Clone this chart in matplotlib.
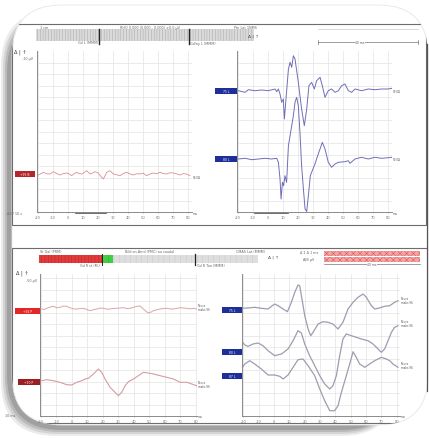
"""
Screenshot-style recreation of an evoked potential report (two panels,
four traces plots) on a curled white card with a grey shadow.
"""

import matplotlib
matplotlib.use("Agg")

import matplotlib.pyplot as plt
from matplotlib.patches import FancyBboxPatch, Rectangle
import numpy as np

plt.rcParams["hatch.linewidth"] = 0.3
plt.rcParams["font.family"] = ["DejaVu Sans"]

# ------------------------------------------------------------------ #
# Data (x in ms, y in display units)            #
# ------------------------------------------------------------------ #
TICKS_MS = [-20, -10, 0, 10, 20, 30, 40, 50, 60, 70, 80]
TICK_LABELS = ["-20", "-10", "0", "10", "20", "30", "40", "50", "60", "70", "80"]

# top-left: single red trace
tl_x = [-20.5, -18.5, -16.4, -14.2, -12.0, -9.8, -7.6, -5.3, -3.1, -0.9, 1.2, 2.4,
        4.0, 5.8, 7.5, 9.1, 10.8, 12.4, 14.7, 16.4, 18.0, 20.2, 22.4, 23.6, 25.8,
        28.0, 30.2, 32.5, 34.7, 36.9, 39.1, 41.4, 43.6, 45.8, 48.0, 50.2, 52.4,
        54.7, 56.9, 59.1, 61.3, 63.5, 65.8, 68.0, 70.2, 72.4, 74.7, 76.9, 79.1, 81.3]
tl_y = [36.5, 38.0, 39.7, 38.2, 38.0, 40.3, 38.5, 37.0, 38.4, 39.0, 37.8, 36.3,
        38.2, 39.7, 38.4, 38.0, 39.5, 41.3, 38.0, 39.0, 40.3, 39.0, 34.7, 33.0, 39.7,
        41.3, 38.0, 37.2, 36.3, 38.5, 39.7, 38.0, 37.0, 38.3, 38.0, 38.8, 36.3,
        38.0, 39.0, 38.2, 39.7, 38.5, 38.0, 39.2, 39.0, 38.2, 37.0, 38.4, 38.0, 36.3]

# top-right: two blue traces
tr1_x = [-19.8, -15.3, -13.1, -8.7, -4.2, 0.2, 4.7, 5.8, 6.9, 8.0, 9.1, 10.2, 10.9,
         11.8, 13.6, 14.7, 15.8, 16.9, 18.0, 20.2, 22.4, 24.2, 25.8, 27.3, 29.1,
         30.9, 32.4, 34.7, 36.2, 38.0, 40.2, 42.4, 44.7, 46.9, 49.1, 51.3, 53.6,
         55.8, 58.0, 62.4, 66.9, 71.3, 75.8, 80.2, 82.5]
tr1_y = [121.3, 119.7, 122.3, 121.3, 122.0, 121.3, 123.0, 120.3, 123.0, 118.0, 109.7,
         113.0, 93.0, 109.7, 143.0, 149.7, 144.7, 156.3, 153.0, 129.7, 103.0, 86.3,
         103.0, 126.3, 129.7, 123.0, 131.3, 134.7, 126.3, 114.7, 121.3, 123.0, 119.7,
         121.3, 126.3, 128.0, 121.3, 119.7, 123.0, 121.3, 123.0, 122.3, 123.0, 123.0,
         123.7]
tr2_x = [-19.8, -15.3, -10.9, -6.4, -2.0, 2.4, 5.8, 6.9, 8.0, 8.7, 9.6, 10.4, 11.3,
         12.4, 13.6, 14.7, 15.8, 16.9, 18.0, 19.1, 20.2, 21.3, 22.4, 23.6, 24.7, 25.8,
         26.9, 28.2, 31.3, 33.1, 34.7, 36.2, 38.0, 40.2, 42.4, 44.7, 46.9, 51.3, 53.6,
         54.7, 58.0, 62.4, 66.9, 71.3, 75.8, 80.2, 82.5]
tr2_y = [53.0, 53.7, 52.3, 53.0, 53.7, 53.0, 53.7, 49.7, 33.0, 13.0, 29.7, 26.3, 36.3,
         29.7, 66.3, 76.3, 86.3, 96.3, 109.7, 114.7, 106.3, 79.7, 46.3, 23.0, 3.0, 0.5,
         16.3, 36.3, 48.0, 56.3, 63.0, 69.7, 63.0, 49.7, 44.7, 48.0, 49.7, 50.3, 51.3,
         48.7, 53.0, 54.7, 53.0, 54.7, 53.7, 54.3, 54.7]

# bottom-left: two red traces
bl1_x = [-19.4, -17.8, -16.2, -14.0, -11.9, -9.7, -7.6, -5.4, -3.3, -1.6, 0.0, 1.6,
         3.2, 5.4, 7.5, 9.6, 11.8, 13.9, 16.1, 18.2, 20.4, 22.5, 24.7, 26.8, 29.0,
         31.1, 33.3, 35.4, 37.6, 39.7, 41.9, 44.1, 46.2, 47.8, 49.4, 51.0, 52.7,
         54.8, 57.0, 59.1, 61.3, 63.4, 65.6, 67.7, 69.9, 72.0, 74.2, 76.3, 78.5, 80.6]
bl1_y = [107.0, 106.5, 107.7, 108.9, 109.7, 108.2, 108.7, 109.9, 109.7, 108.4, 107.7,
         107.0, 107.0, 107.4, 107.7, 106.6, 105.3, 106.2, 107.0, 107.9, 107.7, 106.9,
         107.0, 107.6, 107.7, 108.0, 108.3, 107.5, 107.7, 108.6, 109.7, 110.0, 107.0,
         104.8, 103.0, 103.8, 105.3, 106.2, 107.0, 107.5, 107.7, 107.1, 107.0, 107.6,
         108.3, 108.0, 107.7, 107.2, 107.7, 107.0]
bl2_x = [-19.4, -16.2, -11.9, -7.6, -3.3, 0.0, 3.2, 6.4, 8.6, 10.7, 14.0, 17.2, 19.3,
         21.5, 24.7, 26.9, 30.1, 32.2, 34.4, 36.5, 39.8, 43.0, 46.2, 49.4, 52.7, 57.0,
         61.3, 65.6, 69.9, 74.2, 77.4, 80.6]
bl2_y = [35.3, 36.3, 35.3, 33.7, 31.3, 31.0, 33.7, 35.3, 37.0, 37.7, 42.0, 47.0, 43.7,
         37.0, 28.7, 25.3, 20.3, 23.7, 30.3, 34.3, 37.0, 40.3, 43.7, 43.0, 42.0, 40.3,
         38.7, 37.0, 33.7, 33.7, 32.0, 30.3]

# bottom-right: three grey traces
br1_x = [-21.3, -16.9, -12.6, -8.3, -3.9, -1.7, 0.4, 2.6, 5.9, 8.7, 11.3, 13.5, 15.6,
         16.7, 18.2, 20.0, 22.2, 23.9, 25.4, 28.7, 31.9, 35.2, 38.4, 41.7, 44.9, 48.2,
         51.5, 54.7, 58.0, 60.2, 63.4, 65.6, 67.8, 72.1, 75.4, 78.6, 80.8]
br1_y = [107.7, 108.0, 108.7, 107.7, 107.0, 109.7, 112.0, 110.3, 107.0, 104.3, 113.7,
         123.7, 131.0, 130.3, 117.0, 100.3, 87.0, 80.3, 83.7, 92.0, 94.3, 93.7, 92.0,
         87.0, 93.7, 107.0, 113.7, 118.7, 122.0, 118.7, 110.3, 107.0, 107.7, 109.7,
         110.3, 113.7, 115.3]
br2_x = [-21.3, -19.1, -16.9, -13.7, -10.4, -7.2, -3.9, 0.4, 4.8, 9.1, 12.4, 15.6, 17.8,
         20.0, 23.2, 26.5, 29.8, 33.0, 36.3, 38.4, 40.6, 42.8, 44.9, 47.1, 50.4, 53.6,
         56.9, 61.2, 64.5, 67.8, 69.9, 72.1, 74.3, 76.5, 78.6, 80.8]
br2_y = [75.3, 71.0, 69.7, 72.0, 73.0, 70.3, 65.3, 60.3, 62.0, 67.0, 75.3, 85.3, 83.0,
         72.0, 60.3, 50.3, 40.3, 32.0, 27.0, 30.3, 40.3, 60.3, 77.0, 82.0, 80.3, 78.7,
         77.0, 75.3, 72.0, 67.0, 63.7, 67.0, 75.3, 83.7, 88.7, 90.3]
br3_x = [-21.3, -19.1, -15.9, -12.6, -8.3, -3.9, 0.4, 3.7, 5.9, 9.1, 12.4, 15.6, 18.9,
         22.2, 26.5, 29.8, 33.0, 36.3, 39.5, 41.7, 43.9, 47.1, 49.3, 51.5, 53.6, 55.8,
         59.1, 62.3, 65.6, 69.9, 73.2, 75.4, 77.5, 80.8]
br3_y = [47.0, 52.0, 55.3, 52.0, 47.0, 41.0, 41.0, 39.7, 37.0, 41.0, 48.7, 56.3, 57.0,
         50.3, 40.3, 27.0, 15.3, 5.3, 5.3, 10.3, 23.7, 40.3, 52.0, 64.3, 58.7, 52.0,
         48.7, 52.0, 55.3, 58.7, 57.0, 55.3, 52.0, 48.7]

W, H = 429, 439


def px_axes(fig, x0, y0, x1, y1):
    """Add an axes given its pixel box (y measured from the top)."""
    return fig.add_axes([x0 / W, 1 - y1 / H, (x1 - x0) / W, (y1 - y0) / H], zorder=2)


def style_plot(ax, xlim, height):
    ax.set_xlim(*xlim)
    ax.set_ylim(0, height)
    ax.set_xticks(TICKS_MS)
    ax.set_xticklabels(TICK_LABELS)
    ax.set_yticks(np.arange(0, height, 11.5))
    ax.set_yticklabels([])
    ax.tick_params(axis="x", labelsize=2.6, colors="#777777", length=1, width=0.4, pad=1)
    ax.tick_params(axis="y", length=0)
    ax.grid(True, color="#e3e3e3", linewidth=0.5)
    ax.set_axisbelow(True)
    for side in ("top", "right"):
        ax.spines[side].set_visible(False)
    for side in ("left", "bottom"):
        ax.spines[side].set_color("#8a8a8a")
        ax.spines[side].set_linewidth(0.7)


fig = plt.figure(figsize=(W / 100, H / 100), dpi=100)
fig.patch.set_facecolor("white")

# ------------------------------------------------------------------ #
# Card with shadow (left and bottom only)                             #
# ------------------------------------------------------------------ #
deco = fig.add_axes([0, 0, 1, 1], zorder=0)
deco.set_xlim(0, W)
deco.set_ylim(H, 0)
deco.axis("off")

for pad, col in [(0, "#ececec"), (2, "#d4d4d4"), (4, "#bababa"), (6, "#a0a0a0")]:
    deco.add_patch(FancyBboxPatch((1 + pad, 12 + pad), 395 - pad, 425 - 2 * pad,
                                  boxstyle="round,pad=0,rounding_size=55",
                                  fc=col, ec="none"))
card = FancyBboxPatch((12, 6), 416, 420, boxstyle="round,pad=0,rounding_size=50",
                      fc="white", ec="#e6e6e6", lw=0.6)
deco.add_patch(card)
deco.plot([426.5, 426.5], [45, 392], color="#555555", lw=0.9)

# panel frames
for (x0, y0, w, h) in [(12, 25, 414, 201), (12, 249, 416, 175)]:
    r = Rectangle((x0, y0), w, h, fill=False, ec="#6d6d6d", lw=0.8)
    deco.add_patch(r)
    r.set_clip_path(card)

tiny = dict(fontsize=2.4, color="#666666", va="center")

# top header
deco.add_patch(Rectangle((36, 30), 218, 12, fc="#dadada", ec="#a0a0a0",
                         hatch="||||||", lw=0))
for xm in (99, 189):
    deco.plot([xm, xm], [30, 45], color="#222222", lw=1.0)
deco.text(40, 28, "1 cm", **tiny)
deco.text(120, 27.5, "RHO 0.000 (0.000 - 0.000) ±0.0 µV", **tiny)
deco.text(78, 43.5, "Gd L (MMM)", **tiny)
deco.text(190, 43.5, "Gd/ny L (MMM)", **tiny)
deco.text(234, 28, "Ptn Lat 1NMS", **tiny)
deco.text(248, 37, "Δ | ↑", fontsize=3.2, color="#444444", va="center")
deco.plot([318, 418], [43, 43], color="#777777", lw=0.5)
deco.plot([318, 418], [30, 30], color="#bbbbbb", lw=0.4)
for xm in (318, 418):
    deco.plot([xm, xm], [41, 45], color="#777777", lw=0.5)
deco.text(360, 43, "40 ms", fontsize=2.2, color="#555555", va="center", ha="center",
          bbox=dict(fc="white", ec="none", pad=0.2))
deco.text(14, 52, "Δ | ↑", fontsize=3.6, color="#333333", va="center")
deco.text(22, 59, "-10 µV", **tiny)
deco.text(6, 214, "-60 / 10 s", **tiny)

# bottom header
deco.add_patch(Rectangle((39, 256), 63, 8, fc="#e33b3b", ec="#b52020", hatch="|||||", lw=0))
deco.add_patch(Rectangle((102, 256), 11, 8, fc="#44cc44", ec="#22aa22", hatch="|||", lw=0))
deco.add_patch(Rectangle((113, 256), 145, 8, fc="#dedede", ec="#c4c4c4", hatch="|||", lw=0))
deco.plot([195, 195], [255, 266], color="#222222", lw=0.9)
deco.plot([102, 102], [255, 266], color="#222222", lw=0.7)
deco.text(40, 252, "St Gal (PRM)", **tiny)
deco.text(125, 252, "Bild on Arnd (PMC) au caudal", **tiny)
deco.text(80, 266, "Gd R ct (M-)", **tiny)
deco.text(197, 266, "Gd R Tun (MMM)", **tiny)
deco.text(236, 252, "CMAS Lat (MMM)", **tiny)
deco.text(268, 258, "Δ | ↑", fontsize=3.2, color="#444444", va="center")
deco.text(300, 253.5, "Δ Σ Δ 1 ms", **tiny)
deco.text(303, 260, "A|B µV", **tiny)
for yr in (252, 258):
    deco.add_patch(Rectangle((324, yr), 96, 5, fc="#f4a3a3", ec="#d04a4a",
                             hatch="xxxxx", lw=0))
deco.plot([324, 420], [265, 265], color="#777777", lw=0.5)
deco.text(372, 265, "40 ms", fontsize=2.2, color="#555555", va="center", ha="center",
          bbox=dict(fc="white", ec="none", pad=0.2))
deco.text(16, 273, "Δ | ↑", fontsize=3.6, color="#333333", va="center")
deco.text(26, 281, "-50 µV", **tiny)
deco.text(5, 416, "10 ms", **tiny)

# channel label boxes (left of traces)
for (x0, yc, w, col, txt) in [(15, 175, 20, "#b3262b", "+95 B"),
                              (215, 92, 22, "#1f2f9a", "75 L"),
                              (215, 160, 22, "#1f2f9a", "80 L"),
                              (15, 312, 25, "#e32626", "+92 P"),
                              (18, 383, 22, "#9c1d22", "+90 P"),
                              (222, 311, 20, "#1f2f9a", "75 L"),
                              (222, 353, 20, "#1f2f9a", "80 L"),
                              (222, 377, 20, "#1f2f9a", "87 L")]:
    deco.add_patch(Rectangle((x0, yc - 3), w, 6, fc=col, ec="none"))
    deco.text(x0 + w / 2, yc, txt, fontsize=2.2, color="white", ha="center", va="center")

# end-of-trace labels
for (x, y, txt) in [(193, 178, "96.0Ω"), (393, 92, "99.0Ω"), (393, 160, "99.0Ω"),
                    (198, 308, "Neuro\nmaks 96"), (198, 385, "Neuro\nmaks 96"),
                    (401, 301, "Neuro\nmaks 96"), (401, 324, "Neuro\nmaks 96"),
                    (401, 366, "Neuro\nmaks 96")]:
    deco.text(x, y, txt, fontsize=2.0, color="#555555", va="center", linespacing=0.9)
for (x, y) in [(193, 214), (393, 214), (198, 417), (401, 417)]:
    deco.text(x, y, "ms", **tiny)

# ------------------------------------------------------------------ #
# Plots                                                               #
# ------------------------------------------------------------------ #
ax_tl = px_axes(fig, 37, 52, 192, 213)
style_plot(ax_tl, (-20.7, 82.7), 161)
ax_tl.plot(tl_x, tl_y, color="#dc8f96", lw=0.6)
ax_tl.plot([5, 25], [-1, -1], color="#555555", lw=1.2, clip_on=False)

ax_tr = px_axes(fig, 237, 52, 392, 213)
style_plot(ax_tr, (-20.7, 82.7), 161)
ax_tr.plot(tr1_x, tr1_y, color="#6e6eb8", lw=0.7)
ax_tr.plot(tr2_x, tr2_y, color="#6e6eb8", lw=0.7)
ax_tr.plot([-9, 13], [-1, -1], color="#555555", lw=1.2, clip_on=False)

ax_bl = px_axes(fig, 40, 275, 197, 417)
style_plot(ax_bl, (-20.5, 80.8), 142)
ax_bl.plot(bl1_x, bl1_y, color="#dca4a8", lw=0.7)
ax_bl.plot(bl2_x, bl2_y, color="#d69ca0", lw=0.8)

ax_br = px_axes(fig, 242, 275, 400, 417)
style_plot(ax_br, (-20.9, 82.1), 142)
for xs, ys in [(br1_x, br1_y), (br2_x, br2_y), (br3_x, br3_y)]:
    ax_br.plot(xs, ys, color="#9d9daf", lw=0.9)

fig.savefig("out.png", dpi=100, facecolor="white")
plt.close(fig)
